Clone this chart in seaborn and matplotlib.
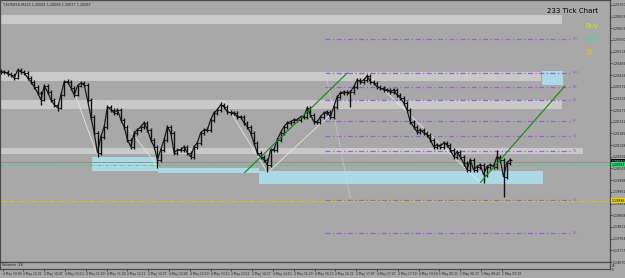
import numpy as np
import pandas as pd
import matplotlib
matplotlib.use("Agg")
import matplotlib.pyplot as plt
import seaborn as sns

# ---------------- data (prices as pipettes above 1.20000) ----------------
BASE = 1.20000
open_first_pts = 436
close_pts = [432, 432, 424, 420, 408, 440, 432, 428, 408, 392,
             372, 348, 320, 376, 352, 320, 300, 288, 340, 392,
             392, 368, 340, 376, 388, 380, 320, 252, 188, 108,
             172, 212, 292, 280, 268, 280, 240, 212, 160, 132,
             188, 200, 212, 228, 200, 160, 132, 80, 120, 160,
             212, 188, 108, 120, 120, 132, 108, 92, 132, 148,
             188, 200, 200, 240, 268, 280, 300, 292, 272, 268,
             268, 252, 252, 228, 212, 188, 148, 108, 92, 80,
             60, 120, 120, 160, 188, 212, 228, 232, 240, 240,
             252, 252, 288, 260, 232, 232, 252, 268, 272, 252,
             292, 332, 348, 352, 348, 352, 372, 400, 392, 400,
             416, 392, 388, 372, 368, 360, 360, 352, 360, 340,
             328, 308, 280, 232, 212, 192, 200, 188, 180, 160,
             132, 140, 132, 148, 140, 120, 92, 112, 92, 68,
             40, 80, 40, 52, 60, 20, 52, 60, 52, 92,
             80, 12, 68, 80]
high_pts = [444, 440, 440, 432, 428, 448, 448, 440, 436, 416,
            400, 380, 356, 384, 384, 360, 328, 308, 348, 400,
            404, 400, 376, 384, 396, 396, 388, 328, 260, 196,
            180, 220, 300, 300, 288, 288, 288, 248, 220, 168,
            196, 208, 220, 236, 236, 208, 168, 140, 128, 168,
            220, 220, 196, 128, 132, 140, 140, 116, 140, 156,
            196, 208, 212, 248, 276, 288, 312, 308, 300, 280,
            276, 276, 260, 260, 236, 220, 196, 156, 116, 100,
            88, 128, 132, 168, 196, 220, 236, 240, 248, 248,
            260, 260, 296, 296, 268, 240, 260, 276, 280, 280,
            300, 340, 356, 360, 360, 360, 380, 408, 408, 408,
            424, 424, 400, 396, 380, 376, 368, 368, 368, 368,
            348, 336, 316, 288, 240, 220, 208, 208, 196, 188,
            168, 148, 148, 156, 156, 148, 128, 120, 120, 100,
            76, 88, 88, 60, 68, 68, 60, 68, 68, 120,
            100, 88, 76, 88]
low_pts = [424, 424, 416, 412, 400, 404, 424, 420, 400, 384,
           364, 340, 300, 316, 344, 312, 292, 276, 284, 336,
           384, 360, 332, 336, 372, 372, 312, 244, 180, 92,
           100, 164, 204, 272, 260, 260, 232, 204, 152, 124,
           124, 180, 192, 204, 192, 152, 124, 48, 72, 112,
           152, 180, 100, 100, 112, 112, 100, 84, 84, 124,
           140, 180, 192, 192, 232, 260, 272, 284, 264, 260,
           260, 244, 244, 220, 204, 180, 140, 100, 84, 72,
           32, 52, 112, 112, 152, 180, 204, 220, 224, 232,
           232, 244, 244, 252, 224, 224, 224, 244, 260, 244,
           244, 284, 324, 340, 340, 292, 344, 364, 384, 384,
           392, 384, 380, 364, 360, 352, 352, 344, 344, 332,
           320, 300, 272, 224, 204, 184, 184, 180, 172, 152,
           124, 124, 124, 124, 132, 112, 84, 84, 84, 56,
           32, 32, 32, 32, 44, -12, 12, 44, 44, 44,
           72, -68, 4, 60]

# horizontal zones: (bar start, bar end, low pts, high pts)
gray_zones = [(0, 168.6, 624, 660), (0, 162.3, 396, 432),
              (0, 168.6, 284, 320), (0, 175.0, 104, 128)]
blue_zones = [(27.3, 47.1, 36, 92), (47.1, 77.4, 28, 48),
              (77.4, 162.9, -16, 36), (162.6, 168.9, 380, 436)]
# purple dash-dot levels (pts, label)
level_pts = [564, 428, 372, 320, 236, 176, 116, -80, -212]
level_names = ["R3", "PR2", "R2", "R1", "PP", "S1", "P1", "S2", "S3"]
level_x = (97.5, 171.6)
yellow_level_pts = -84
bid_pts = 60
ask_pts = 72
# trend lines (bar0, pts0, bar1, pts1)
green_lines = [(73.2, 28, 104.1, 428), (144.0, -12, 169.5, 376)]
white_lines = [(22.5, 332, 29.1, 92), (32.1, 312, 47.4, 48),
               (66.9, 316, 80.1, 28), (80.1, 28, 99.9, 272),
               (110.4, 420, 144.0, -12)]
dotted_line = (97.5, 428, 105.0, -76)

ytick_labels = ["1.20700", "1.20653", "1.20606", "1.20560", "1.20513", "1.20466",
                "1.20419", "1.20372", "1.20326", "1.20279", "1.20232", "1.20185",
                "1.20138", "1.20092", "1.20045", "1.19998", "1.19951", "1.19904",
                "1.19858", "1.19811", "1.19764", "1.19717", "1.19670"]
xtick_labels = ["4 May 10:05", "4 May 10:31", "4 May 10:47", "4 May 10:53",
                "4 May 11:09", "4 May 11:30", "4 May 12:11", "4 May 12:27",
                "4 May 12:48", "4 May 12:59", "4 May 13:13", "4 May 13:51",
                "4 May 14:17", "4 May 14:53", "4 May 15:29", "4 May 16:15",
                "4 May 16:31", "4 May 17:07", "4 May 17:22", "4 May 17:59",
                "4 May 19:16", "5 May 00:11", "5 May 06:17", "5 May 08:43",
                "5 May 09:19"]
header = "T-EURUSD,M233 1.20081 1.20088 1.20077 1.20087"
bid_label = "1.20087"
ask_label = "1.20090"
yellow_label = "1.19996"

# ---------------- helpers ----------------
def P(v):
    return BASE + np.asarray(v, dtype=float) / 1e5

close = P(close_pts)
high = P(high_pts)
low = P(low_pts)
opens = np.concatenate([[P(open_first_pts)], close[:-1]])
idx = np.arange(len(close))
df = pd.DataFrame({"bar": idx, "close": close})

BG = "#A8A8A8"
sns.set_theme(style="white", rc={"axes.facecolor": BG, "figure.facecolor": BG})
plt.rcParams["font.family"] = ["DejaVu Sans"]

W, H = 625, 278
fig = plt.figure(figsize=(W / 100, H / 100), dpi=100)
fig.patch.set_facecolor(BG)
pr = 610 / W
ax = fig.add_axes([0, 1 - 262 / H, pr, 262 / H])
axv = fig.add_axes([0, 1 - 269 / H, pr, 7 / H], sharex=ax)
for a in (ax, axv):
    a.set_facecolor(BG)
    for s in a.spines.values():
        s.set_color("#4a4a4a")
        s.set_linewidth(0.9)

ax.set_xlim(-0.3, 183)
ax.set_ylim(P(-328), P(720))

# zones
for x0, x1, lo, hi in gray_zones:
    ax.fill_between([x0, x1], P(lo), P(hi), color="#C9C9C9", lw=0, zorder=1)
for x0, x1, lo, hi in blue_zones:
    ax.fill_between([x0, x1], P(lo), P(hi), color="#ADD8E6", lw=0, zorder=1)

# levels
for lp in level_pts:
    ax.plot(level_x, [P(lp)] * 2, color="#9A5FE0", lw=0.9, ls=(0, (4, 2, 1, 2)), zorder=2)
for lp, nm in zip(level_pts, level_names):
    ax.text(level_x[1] + 0.3, P(lp), nm, color="#9A5FE0", fontsize=2.6,
            va="center", ha="left", zorder=5)
ax.axhline(P(yellow_level_pts), color="#E6C200", lw=0.8, ls=(0, (4, 2, 1, 2)), zorder=2)
ax.axhline(P(ask_pts), color="#8C8C8C", lw=0.6, zorder=2)
ax.axhline(P(bid_pts), color="#22E07A", lw=0.6, ls=(0, (4, 2, 1, 2)), zorder=2)

# helper lines
for x0, p0, x1, p1 in white_lines:
    ax.plot([x0, x1], [P(p0), P(p1)], color="#E4E4E4", lw=0.6, zorder=3)
x0, p0, x1, p1 = dotted_line
ax.plot([x0, x1], [P(p0), P(p1)], color="#DDDDDD", lw=0.6, ls=(0, (1, 1)), zorder=3)
for x0, p0, x1, p1 in green_lines:
    ax.plot([x0, x1], [P(p0), P(p1)], color="#138A13", lw=0.8, zorder=6)

# price bars
sns.lineplot(data=df, x="bar", y="close", ax=ax, color="#1A1A1A", lw=0.9, zorder=4)
ax.vlines(idx, low, high, color="#111111", lw=1.0, zorder=5)
ax.hlines(opens, idx - 0.5, idx, color="#111111", lw=0.7, zorder=5)
ax.hlines(close, idx, idx + 0.5, color="#111111", lw=0.7, zorder=5)

# y axis on right
yt = [float(t) for t in ytick_labels]
ax.yaxis.tick_right()
ax.set_yticks(yt)
ax.set_yticklabels(ytick_labels)
ax.tick_params(axis="y", labelsize=2.3, length=1.2, width=0.5, pad=0.6,
               colors="#202020", direction="out", right=True)
ax.tick_params(axis="x", bottom=False, labelbottom=False)
ax.set_xlabel("")
ax.set_ylabel("")

# price tags on axis
trans = ax.get_yaxis_transform()
tag_x = 1.0025
ax.text(tag_x, P(ask_pts), ask_label, transform=trans, fontsize=2.3, color="white",
        va="center", ha="left", clip_on=False, zorder=10,
        bbox=dict(boxstyle="square,pad=0.12", fc="black", ec="none"))
ax.text(tag_x, P(bid_pts), bid_label, transform=trans, fontsize=2.3, color="black",
        va="center", ha="left", clip_on=False, zorder=10,
        bbox=dict(boxstyle="square,pad=0.12", fc="#22E07A", ec="none"))
ax.text(tag_x, P(yellow_level_pts), yellow_label, transform=trans, fontsize=2.3, color="black",
        va="center", ha="left", clip_on=False, zorder=10,
        bbox=dict(boxstyle="square,pad=0.12", fc="#F2D300", ec="none"))

# volume panel
axv.set_yticks([])
axv.set_ylim(0, 1)
axv.text(0.004, 0.5, "Volumes  48", transform=axv.transAxes, fontsize=2.4,
         color="#202020", va="center", ha="left")
axv.text(1.003, 0.42, "28", transform=axv.transAxes, fontsize=2.0, color="#202020",
         va="center", ha="left", clip_on=False)
axv.text(1.003, -0.1, "0", transform=axv.transAxes, fontsize=2.0, color="#202020",
         va="center", ha="left", clip_on=False)
xt = np.arange(len(xtick_labels)) * 6.25 + 0.5
axv.set_xticks(xt)
axv.set_xticklabels(xtick_labels, ha="left")
axv.tick_params(axis="x", labelsize=2.15, length=1.5, width=0.5, pad=0.8,
                colors="#202020", bottom=True)
axv.set_xlabel("")

# texts
fig.text(3 / W, 1 - 4.5 / H, header, fontsize=2.4, color="#202020", va="center", ha="left")
fig.text(598 / W, 1 - 11 / H, "233 Tick Chart", fontsize=5.0, color="black",
         va="center", ha="right")
fig.text(585 / W, 1 - 26 / H, "Buy", fontsize=5.0, color="#B7F030", va="center", ha="left")
fig.text(586 / W, 1 - 39 / H, "Sell", fontsize=5.0, color="#33E28A", va="center", ha="left",
         zorder=20)
fig.text(586 / W, 1 - 52 / H, "SL", fontsize=5.0, color="#F2C800", va="center", ha="left")

fig.savefig("out.png", dpi=100, facecolor=BG)
